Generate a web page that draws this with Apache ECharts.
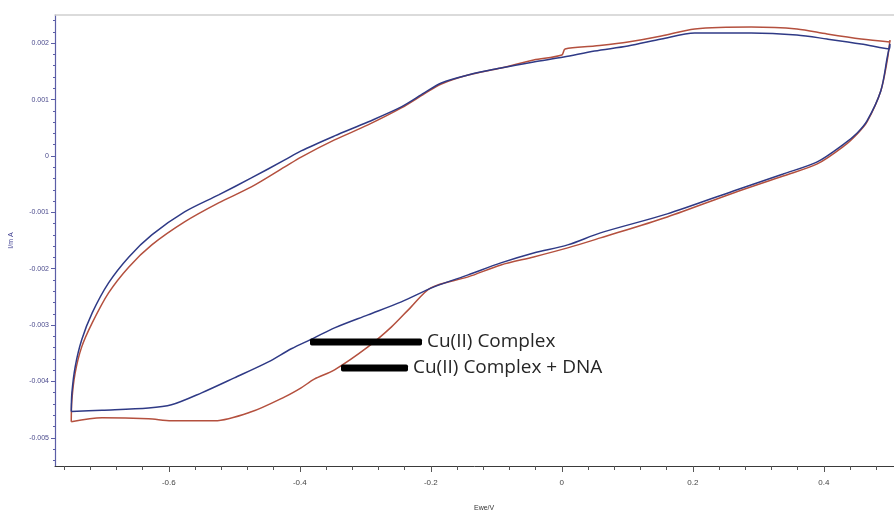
<!DOCTYPE html>
<html>
<head>
<meta charset="utf-8">
<script src="https://cdn.jsdelivr.net/npm/echarts@6/dist/echarts.min.js"></script>
<style>
html,body{margin:0;padding:0;background:#fff;}
#chart{width:894px;height:518px;}
</style>
</head>
<body>
<div id="chart"></div>
<script>
// Cu(II) Complex (blue): lower branch left->right, then upper branch right->left
var complexV = [-0.749,-0.702,-0.631,-0.596,-0.550,-0.500,-0.448,-0.413,-0.378,-0.347,-0.296,-0.245,-0.195,-0.143,-0.093,-0.043,0.009,0.059,0.161,0.262,0.338,0.390,0.431,0.451,0.466,0.487,0.497,0.501,
  0.500,0.457,0.405,0.359,0.289,0.203,0.152,0.101,0.050,0.003,-0.043,-0.093,-0.143,-0.184,-0.210,-0.245,-0.296,-0.347,-0.398,-0.423,-0.474,-0.524,-0.576,-0.626,-0.661,-0.692,-0.717,-0.733,-0.743,-0.748,-0.749];
var complexI = [-0.004534,-0.004512,-0.004473,-0.004415,-0.004202,-0.003936,-0.003652,-0.003420,-0.003227,-0.003050,-0.002819,-0.002589,-0.002323,-0.002110,-0.001897,-0.001720,-0.001578,-0.001365,-0.001028,-0.000621,-0.000319,-0.000106,0.000213,0.000408,0.000621,0.001152,0.001755,0.001986,
  0.001897,0.001986,0.002074,0.002145,0.002181,0.002181,0.002074,0.001950,0.001862,0.001755,0.001667,0.001560,0.001436,0.001294,0.001117,0.000869,0.000603,0.000355,0.000090,-0.000071,-0.000390,-0.000691,-0.000993,-0.001401,-0.001791,-0.002252,-0.002784,-0.003262,-0.003741,-0.004202,-0.004534];

// Cu(II) Complex + DNA (red)
var dnaV = [-0.749,-0.702,-0.631,-0.596,-0.530,-0.474,-0.423,-0.398,-0.378,-0.347,-0.296,-0.260,-0.230,-0.200,-0.143,-0.093,-0.043,0.009,0.059,0.161,0.262,0.338,0.390,0.431,0.451,0.466,0.487,0.497,0.501,
  0.501,0.457,0.405,0.359,0.289,0.203,0.152,0.101,0.050,0.005,0.000,-0.043,-0.093,-0.143,-0.184,-0.210,-0.245,-0.296,-0.347,-0.398,-0.423,-0.474,-0.524,-0.576,-0.626,-0.661,-0.692,-0.717,-0.733,-0.743,-0.748,-0.749];
var dnaI = [-0.004716,-0.004645,-0.004663,-0.004699,-0.004699,-0.004539,-0.004273,-0.004113,-0.003960,-0.003794,-0.003387,-0.003032,-0.002677,-0.002340,-0.002145,-0.001933,-0.001791,-0.001631,-0.001454,-0.001082,-0.000656,-0.000355,-0.000142,0.000177,0.000390,0.000603,0.001152,0.001702,0.002057,
  0.002021,0.002074,0.002163,0.002252,0.002287,0.002252,0.002128,0.002021,0.001950,0.001897,0.001791,0.001702,0.001560,0.001436,0.001277,0.001099,0.000851,0.000550,0.000284,-0.000020,-0.000195,-0.000550,-0.000833,-0.001170,-0.001578,-0.001968,-0.002429,-0.002961,-0.003387,-0.003848,-0.004326,-0.004716];

var seriesNames = ['Cu(II) Complex', 'Cu(II) Complex + DNA'];

var xTickLabels = [-0.6, -0.4, -0.2, 0, 0.2, 0.4];
var xMinorTicks = [-0.76,-0.72,-0.68,-0.64,-0.6,-0.56,-0.52,-0.48,-0.44,-0.4,-0.36,-0.32,-0.28,-0.24,-0.2,-0.16,-0.12,-0.08,-0.04,0,0.04,0.08,0.12,0.16,0.2,0.24,0.28,0.32,0.36,0.4,0.44,0.48];
var yTickLabels = [-0.005, -0.004, -0.003, -0.002, -0.001, 0, 0.001, 0.002];
var yMinorTicks = [-0.0054,-0.0052,-0.005,-0.0048,-0.0046,-0.0044,-0.0042,-0.004,-0.0038,-0.0036,-0.0034,-0.0032,-0.003,-0.0028,-0.0026,-0.0024,-0.0022,-0.002,-0.0018,-0.0016,-0.0014,-0.0012,-0.001,-0.0008,-0.0006,-0.0004,-0.0002,0,0.0002,0.0004,0.0006,0.0008,0.001,0.0012,0.0014,0.0016,0.0018,0.002,0.0022,0.0024];

function pairs(xs, ys) { return xs.map(function (v, i) { return [v, ys[i]]; }); }

var X_MIN = -0.7738, X_MAX = 0.5072, Y_MIN = -0.0055, Y_MAX = 0.0025;
var chart = echarts.init(document.getElementById('chart'), null, { renderer: 'canvas' });

var legendText = { fontFamily: 'Open Sans', fontSize: 19, color: '#262626', lineHeight: 22 };

chart.setOption({
  animation: false,
  backgroundColor: '#ffffff',
  grid: { left: 53, top: 15, right: 0, bottom: 52, containLabel: false },
  legend: [
    { data: [{ name: seriesNames[0], icon: 'roundRect', itemStyle: { color: '#000' } }],
      left: 310, top: 331, itemWidth: 112, itemHeight: 7, padding: 0, textStyle: legendText, selectedMode: false },
    { data: [{ name: seriesNames[1], icon: 'roundRect', itemStyle: { color: '#000' } }],
      left: 341, top: 357, itemWidth: 67, itemHeight: 7, padding: 0, textStyle: legendText, selectedMode: false }
  ],
  xAxis: [
    { type: 'value', min: X_MIN, max: X_MAX, position: 'bottom',
      axisLine: { show: true, onZero: false, lineStyle: { color: '#3a3a3a', width: 1 } },
      axisTick: { show: true, customValues: xMinorTicks, length: 4, inside: false, lineStyle: { color: '#555' } },
      axisLabel: { show: true, customValues: xTickLabels, margin: 13, fontSize: 8, color: '#444', fontFamily: 'Liberation Sans',
        formatter: function (v) { return String(v); } },
      splitLine: { show: false } },
    { type: 'value', min: X_MIN, max: X_MAX, position: 'bottom', offset: 0,
      axisLine: { show: false, onZero: false },
      axisTick: { show: true, customValues: xTickLabels, length: 6, lineStyle: { color: '#555' } },
      axisLabel: { show: false }, splitLine: { show: false } },
    { type: 'value', min: X_MIN, max: X_MAX, position: 'top', offset: 0,
      axisLine: { show: true, onZero: false, lineStyle: { color: '#cfcfcf', width: 1.5 } },
      axisTick: { show: false }, axisLabel: { show: false }, splitLine: { show: false } }
  ],
  yAxis: [
    { type: 'value', min: Y_MIN, max: Y_MAX, position: 'left',
      name: 'I/m A', nameLocation: 'middle', nameGap: 40, nameRotate: 90,
      nameTextStyle: { fontSize: 7, color: '#3d3d8f', fontFamily: 'Liberation Sans' },
      axisLine: { show: true, onZero: false, lineStyle: { color: '#5b5ea6', width: 1.2 } },
      axisTick: { show: true, customValues: yMinorTicks, length: 2, lineStyle: { color: '#5b5ea6' } },
      axisLabel: { show: true, customValues: yTickLabels, margin: 6, fontSize: 7, color: '#4a4a8c', fontFamily: 'Liberation Sans',
        formatter: function (v) { return String(v); } },
      splitLine: { show: false } },
    { type: 'value', min: Y_MIN, max: Y_MAX, position: 'left', offset: 0,
      axisLine: { show: false, onZero: false },
      axisTick: { show: true, customValues: yTickLabels, length: 4, lineStyle: { color: '#5b5ea6' } },
      axisLabel: { show: false }, splitLine: { show: false } }
  ],
  graphic: [
    { type: 'text', left: 474, top: 505, style: { text: 'Ewe/V', fontSize: 7, fill: '#333', fontFamily: 'Liberation Sans' } }
  ],
  series: [
    { name: seriesNames[0], type: 'line', data: pairs(complexV, complexI), showSymbol: false, symbol: 'none',
      smooth: 0.3, lineStyle: { color: '#2f3a86', width: 1.5 }, itemStyle: { color: '#2f3a86' }, z: 3 },
    { name: seriesNames[1], type: 'line', data: pairs(dnaV, dnaI), showSymbol: false, symbol: 'none',
      smooth: 0.3, lineStyle: { color: '#b4503e', width: 1.5 }, itemStyle: { color: '#b4503e' }, z: 2 }
  ]
});
</script>
</body>
</html>
